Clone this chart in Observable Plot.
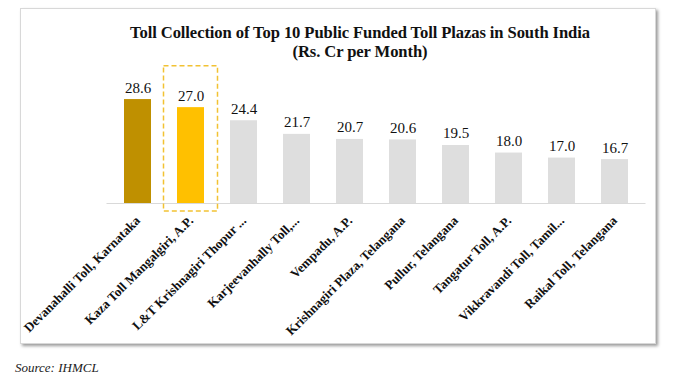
<!DOCTYPE html>
<html><head><meta charset="utf-8">
<script src="https://cdn.jsdelivr.net/npm/d3@7"></script>
<script src="https://cdn.jsdelivr.net/npm/@observablehq/plot@0.6"></script>
<style>
body{margin:0;background:#fff;width:675px;height:381px;overflow:hidden;position:relative;font-family:"Liberation Serif",serif;}
#panel{position:absolute;left:20px;top:8px;width:634px;height:334px;border:1px solid #d8d8d8;box-shadow:2px 2px 3px #9a9a9a;background:#fff;}
#title{position:absolute;left:0;top:24px;width:720px;text-align:center;font-weight:bold;font-size:16.6px;line-height:18.5px;color:#111;letter-spacing:-0.1px;}
#chart{position:absolute;left:0;top:60px;}
#source{position:absolute;left:15px;top:360px;font-style:italic;font-size:13px;color:#222;}
</style></head>
<body>
<div id="panel"></div>
<div id="title">Toll Collection of Top 10 Public Funded Toll Plazas in South India<br>(Rs. Cr per Month)</div>
<div id="chart"></div>
<div id="source">Source: IHMCL</div>
<script>
const plazas = ["Devanahalli Toll, Karnataka","Kaza Toll Mangalgiri, A.P.","L&T Krishnagiri Thopur ...","Karjeevanhally Toll,...","Vempadu, A.P.","Krishnagiri Plaza, Telangana","Pullur, Telangana","Tangatur Toll, A.P.","Vikkravandi Toll, Tamil...","Raikal Toll, Telangana"];
const collection = [28.6, 27.0, 24.4, 21.7, 20.7, 20.6, 19.5, 18.0, 17.0, 16.7];
const barColors = ["#BF9000","#FFC000","#DEDEDE","#DEDEDE","#DEDEDE","#DEDEDE","#DEDEDE","#DEDEDE","#DEDEDE","#DEDEDE"];
const highlight = [{name: "Kaza Toll Mangalgiri, A.P.", y1: 6.4, y2: 35.2}];
const yMin = 8;

const data = plazas.map((name, i) => ({name, value: collection[i], color: barColors[i]}));

const chart = Plot.plot({
  width: 675,
  height: 283,
  marginLeft: 106.5,
  marginRight: 29.5,
  marginTop: 32,
  marginBottom: 140,
  x: {domain: plazas, paddingInner: 0.5, paddingOuter: 0.25, axis: null},
  y: {domain: [yMin, 30], axis: null},
  marks: [
    Plot.barY(data, {x: "name", y1: yMin, y2: "value", fill: "color"}),
    Plot.ruleY([yMin], {stroke: "#d9d9d9", strokeWidth: 1}),
    Plot.barY(highlight, {x: "name", y1: "y1", y2: "y2", fill: "none", stroke: "#F2C233", strokeWidth: 1.5, strokeDasharray: "5,3", insetLeft: -13.5, insetRight: -13.5}),
    Plot.text(data, {x: "name", y: "value", text: d => d.value.toFixed(1), lineAnchor: "bottom", dy: -7, fontSize: 15, fill: "#111", fontFamily: "Liberation Serif"}),
    Plot.text(data, {x: "name", y: yMin, text: "name", rotate: -45, textAnchor: "end", dx: 0, dy: 15, fontSize: 13, fontWeight: "bold", fill: "#111", fontFamily: "Liberation Serif"})
  ]
});
document.getElementById("chart").appendChild(chart);
</script>
</body></html>
